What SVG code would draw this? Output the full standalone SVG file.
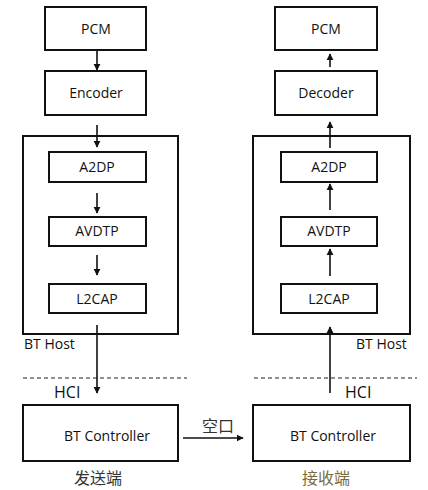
<svg xmlns="http://www.w3.org/2000/svg" width="428" height="490" viewBox="0 0 428 490">
<defs>
<style>
.box{fill:#fff;stroke:#111;stroke-width:2}
.t{font-family:"Open Sans","Noto Sans","Liberation Sans",sans-serif;font-size:14px;fill:#111;text-anchor:middle}
.lbl{font-family:"Open Sans","Noto Sans","Liberation Sans",sans-serif;font-size:14px;fill:#111}
.hci{font-family:"Open Sans","Noto Sans","Liberation Sans",sans-serif;font-size:16px;fill:#111}
.cn{font-family:"Noto Sans CJK SC","Liberation Serif",serif;font-size:16px;fill:#333;text-anchor:middle}
.c{stroke:#111;stroke-width:1.6;fill:none}
.dash{stroke:#222;stroke-width:1;stroke-dasharray:4,3;fill:none}
</style>
<marker id="ah" viewBox="0 0 10 10" refX="9" refY="5" markerWidth="4.5" markerHeight="4.5" orient="auto"><path d="M0,0 L10,5 L0,10 z" fill="#111"/></marker>
</defs>
<rect width="428" height="490" fill="#fff"/>
<g id="host-left"><rect class="box" x="23" y="136" width="155" height="198"/><text class="lbl" x="24" y="349">BT Host</text></g>
<g id="host-right"><rect class="box" x="253" y="136" width="157" height="198"/><text class="lbl" x="356" y="349">BT Host</text></g>
<g id="pcm-left"><rect class="box" x="45" y="7" width="101" height="43"/><text class="t" x="96" y="34">PCM</text></g>
<g id="encoder"><rect class="box" x="45" y="71" width="101" height="44"/><text class="t" x="96" y="98">Encoder</text></g>
<g id="a2dp-left"><rect class="box" x="49" y="152" width="97" height="30"/><text class="t" x="97" y="172">A2DP</text></g>
<g id="avdtp-left"><rect class="box" x="49" y="217" width="97" height="29"/><text class="t" x="97" y="236">AVDTP</text></g>
<g id="l2cap-left"><rect class="box" x="49" y="284" width="97" height="29"/><text class="t" x="97" y="304">L2CAP</text></g>
<g id="ctrl-left"><rect class="box" x="23" y="405" width="155" height="56"/><text class="t" x="107" y="441">BT Controller</text></g>
<g id="pcm-right"><rect class="box" x="275" y="7" width="102" height="43"/><text class="t" x="326" y="34">PCM</text></g>
<g id="decoder"><rect class="box" x="275" y="71" width="102" height="44"/><text class="t" x="326" y="98">Decoder</text></g>
<g id="a2dp-right"><rect class="box" x="281" y="152" width="96" height="30"/><text class="t" x="329" y="172">A2DP</text></g>
<g id="avdtp-right"><rect class="box" x="281" y="217" width="96" height="29"/><text class="t" x="329" y="236">AVDTP</text></g>
<g id="l2cap-right"><rect class="box" x="281" y="284" width="96" height="29"/><text class="t" x="329" y="304">L2CAP</text></g>
<g id="ctrl-right"><rect class="box" x="253" y="405" width="157" height="56"/><text class="t" x="333" y="441">BT Controller</text></g>
<g id="hci">
<line class="dash" x1="23" y1="378" x2="187" y2="378"/>
<line class="dash" x1="254" y1="378" x2="417" y2="378"/>
<text class="hci" x="54" y="398">HCI</text>
<text class="hci" x="345" y="398">HCI</text>
</g>
<g id="connectors">
<line class="c" x1="97" y1="51" x2="97" y2="70" marker-end="url(#ah)"/>
<line class="c" x1="97" y1="125" x2="97" y2="147" marker-end="url(#ah)"/>
<line class="c" x1="97" y1="193" x2="97" y2="213" marker-end="url(#ah)"/>
<line class="c" x1="97" y1="255" x2="97" y2="275" marker-end="url(#ah)"/>
<line class="c" x1="97" y1="325" x2="97" y2="393" marker-end="url(#ah)"/>
<line class="c" x1="183" y1="438" x2="243" y2="438" marker-end="url(#ah)"/>
<line class="c" x1="330" y1="67" x2="330" y2="54" marker-end="url(#ah)"/>
<line class="c" x1="330" y1="148" x2="330" y2="122" marker-end="url(#ah)"/>
<line class="c" x1="330" y1="210" x2="330" y2="184" marker-end="url(#ah)"/>
<line class="c" x1="330" y1="276" x2="330" y2="249" marker-end="url(#ah)"/>
<line class="c" x1="330" y1="393" x2="330" y2="327" marker-end="url(#ah)"/>
</g>
<text class="cn" x="218" y="432">空口</text>
<text class="cn" x="98" y="484">发送端</text>
<text class="cn" x="326" y="484" style="fill:#7a6a3a">接收端</text>
</svg>
